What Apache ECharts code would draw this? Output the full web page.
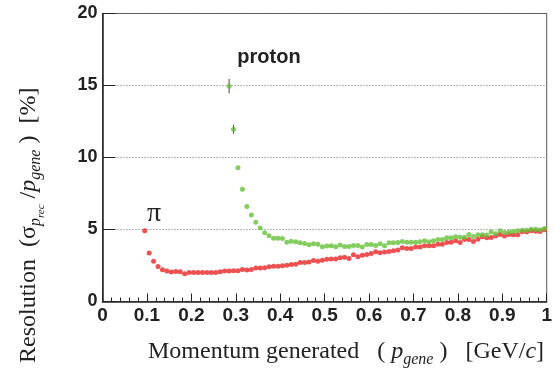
<!DOCTYPE html>
<html>
<head>
<meta charset="utf-8">
<script src="https://cdn.jsdelivr.net/npm/echarts@6/dist/echarts.min.js"></script>
<style>
  html, body { margin: 0; padding: 0; background: #fff; }
  #chart { width: 555px; height: 371px; }
</style>
</head>
<body>
<div id="chart"></div>
<script>
// Momentum bin centres [GeV/c] and momentum resolution [%] for pions
const piMomentum = [
  0.095, 0.105, 0.115, 0.125, 0.135, 0.145, 0.155, 0.165, 0.175, 0.185,
  0.195, 0.205, 0.215, 0.225, 0.235, 0.245, 0.255, 0.265, 0.275, 0.285,
  0.295, 0.305, 0.315, 0.325, 0.335, 0.345, 0.355, 0.365, 0.375, 0.385,
  0.395, 0.405, 0.415, 0.425, 0.435, 0.445, 0.455, 0.465, 0.475, 0.485,
  0.495, 0.505, 0.515, 0.525, 0.535, 0.545, 0.555, 0.565, 0.575, 0.585,
  0.595, 0.605, 0.615, 0.625, 0.635, 0.645, 0.655, 0.665, 0.675, 0.685,
  0.695, 0.705, 0.715, 0.725, 0.735, 0.745, 0.755, 0.765, 0.775, 0.785,
  0.795, 0.805, 0.815, 0.825, 0.835, 0.845, 0.855, 0.865, 0.875, 0.885,
  0.895, 0.905, 0.915, 0.925, 0.935, 0.945, 0.955, 0.965, 0.975, 0.985,
  0.995
];
const piResolution = [
  4.91, 3.36, 2.80, 2.43, 2.20, 2.11, 2.04, 2.08, 2.06, 1.92,
  2.01, 2.01, 2.01, 2.01, 2.01, 2.01, 2.01, 2.06, 2.11, 2.11,
  2.13, 2.13, 2.23, 2.18, 2.22, 2.32, 2.32, 2.34, 2.41, 2.45,
  2.45, 2.48, 2.52, 2.57, 2.59, 2.71, 2.71, 2.75, 2.85, 2.80,
  2.87, 2.94, 2.96, 2.96, 3.03, 3.08, 2.99, 3.24, 3.10, 3.22,
  3.26, 3.33, 3.45, 3.38, 3.43, 3.47, 3.52, 3.57, 3.73, 3.68,
  3.68, 3.78, 3.78, 3.87, 3.87, 3.87, 3.98, 3.98, 4.10, 4.12,
  4.22, 4.10, 4.31, 4.31, 4.17, 4.33, 4.49, 4.42, 4.45, 4.54,
  4.65, 4.54, 4.65, 4.63, 4.63, 4.84, 4.82, 4.91, 4.88, 4.86,
  4.98
];

// Momentum bin centres [GeV/c], resolution [%] and its error for protons
const protonMomentum = [
  0.285, 0.295, 0.305, 0.315, 0.325, 0.335, 0.345, 0.355, 0.365, 0.375,
  0.385, 0.395, 0.405, 0.415, 0.425, 0.435, 0.445, 0.455, 0.465, 0.475,
  0.485, 0.495, 0.505, 0.515, 0.525, 0.535, 0.545, 0.555, 0.565, 0.575,
  0.585, 0.595, 0.605, 0.615, 0.625, 0.635, 0.645, 0.655, 0.665, 0.675,
  0.685, 0.695, 0.705, 0.715, 0.725, 0.735, 0.745, 0.755, 0.765, 0.775,
  0.785, 0.795, 0.805, 0.815, 0.825, 0.835, 0.845, 0.855, 0.865, 0.875,
  0.885, 0.895, 0.905, 0.915, 0.925, 0.935, 0.945, 0.955, 0.965, 0.975,
  0.985, 0.995
];
const protonResolution = [
  14.95, 11.96, 9.29, 7.80, 6.60, 6.00, 5.51, 5.10, 4.77, 4.56,
  4.40, 4.40, 4.38, 4.12, 4.19, 4.15, 4.08, 4.03, 3.94, 4.01,
  3.98, 3.80, 3.85, 3.87, 3.80, 3.92, 3.82, 3.82, 3.89, 3.89,
  3.78, 3.96, 3.96, 3.89, 4.01, 3.87, 4.08, 4.08, 4.10, 4.17,
  4.12, 4.12, 4.12, 4.15, 4.22, 4.15, 4.22, 4.31, 4.31, 4.42,
  4.42, 4.49, 4.47, 4.47, 4.65, 4.51, 4.63, 4.63, 4.61, 4.82,
  4.70, 4.91, 4.79, 4.82, 4.86, 4.91, 4.95, 4.95, 5.02, 5.02,
  4.98, 5.07
];
const protonError = [0.50, 0.31];

// Axis ranges and tick steps
const xRange = [0, 1];
const xStep = 0.1;
const yRange = [0, 20];
const yStep = 5;

const piPoints = piMomentum.map((p, i) => [p, piResolution[i]]);
const protonPoints = protonMomentum.map((p, i) => [p, protonResolution[i]]);
const protonBars = protonError.map((e, i) => [protonMomentum[i], protonResolution[i], e]);

const chart = echarts.init(document.getElementById('chart'), null, { renderer: 'canvas' });

const serif = '"Liberation Serif", "DejaVu Serif", serif';
const sans = '"Liberation Sans", Arial, sans-serif';

chart.setOption({
  animation: false,
  backgroundColor: '#ffffff',
  grid: {
    left: 102.5, top: 13.5, width: 447, height: 288,
    show: true, borderColor: '#555', borderWidth: 1, backgroundColor: 'transparent'
  },
  xAxis: {
    type: 'value',
    min: xRange[0], max: xRange[1], interval: xStep,
    axisLine: { onZero: false, lineStyle: { color: '#222', width: 1.5 } },
    axisTick: { inside: true, length: 8, lineStyle: { color: '#222', width: 1 } },
    minorTick: { show: true, splitNumber: 5, length: 4, lineStyle: { color: '#222', width: 1 } },
    axisLabel: { color: '#222', fontFamily: sans, fontWeight: 'bold', fontSize: 19, margin: 5 },
    splitLine: { show: false }
  },
  yAxis: {
    type: 'value',
    min: yRange[0], max: yRange[1], interval: yStep,
    axisLine: { show: true, onZero: false, lineStyle: { color: '#222', width: 1.5 } },
    axisTick: { inside: true, length: 13, lineStyle: { color: '#222', width: 1 } },
    axisLabel: { color: '#222', fontFamily: sans, fontWeight: 'bold', fontSize: 18, margin: 5, padding: [3, 0, 0, 0] },
    splitLine: { show: true, lineStyle: { color: '#777', width: 1, type: [1, 2] } }
  },
  series: [
    {
      type: 'custom',
      name: 'proton error',
      data: protonBars,
      silent: true,
      z: 1,
      renderItem: function (params, api) {
        const x = api.value(0), y = api.value(1), e = api.value(2);
        const lo = api.coord([x, y - e]);
        const hi = api.coord([x, y + e]);
        return {
          type: 'line',
          shape: { x1: lo[0], y1: lo[1], x2: hi[0], y2: hi[1] },
          style: { stroke: '#444', lineWidth: 1 }
        };
      }
    },
    {
      type: 'scatter',
      name: 'π',
      data: piPoints,
      symbol: 'circle',
      symbolSize: 5,
      itemStyle: { color: '#ea2525' },
      silent: true,
      z: 2
    },
    {
      type: 'scatter',
      name: 'proton',
      data: protonPoints,
      symbol: 'circle',
      symbolSize: 5,
      itemStyle: { color: '#66c038' },
      silent: true,
      z: 3
    }
  ],
  graphic: [
    {
      type: 'text', x: 269, y: 57, silent: true,
      style: { text: 'proton', font: 'bold 20px ' + sans, fill: '#222', align: 'center', verticalAlign: 'middle' }
    },
    {
      type: 'text', x: 154, y: 214, silent: true,
      style: { text: 'π', font: '28px ' + serif, fill: '#222', align: 'center', verticalAlign: 'middle' }
    },
    {
      type: 'text', x: 148, y: 352, silent: true,
      style: {
        text: 'Momentum generated   ( {i|p}{sub|gene} )   [GeV/{i|c}]',
        font: '24px ' + serif, fill: '#222', align: 'left', verticalAlign: 'middle',
        rich: {
          i: { fontFamily: serif, fontSize: 24, fontStyle: 'italic', fill: '#222' },
          sub: { fontFamily: serif, fontSize: 16, fontStyle: 'italic', fill: '#222', padding: [16, 0, 0, 0] }
        }
      }
    },
    {
      type: 'text', x: 29, y: 363, rotation: Math.PI / 2, silent: true,
      style: {
        text: 'Resolution  (σ{s1|p}{s2|rec} /{i|p}{s1|gene} )  [%]',
        font: '24px ' + serif, fill: '#222', align: 'left', verticalAlign: 'middle',
        rich: {
          i: { fontFamily: serif, fontSize: 24, fontStyle: 'italic', fill: '#222' },
          s1: { fontFamily: serif, fontSize: 16, fontStyle: 'italic', fill: '#222', padding: [14, 0, 0, 0] },
          s2: { fontFamily: serif, fontSize: 11, fontStyle: 'italic', fill: '#222', padding: [24, 0, 0, 0] }
        }
      }
    }
  ]
});
</script>
</body>
</html>
